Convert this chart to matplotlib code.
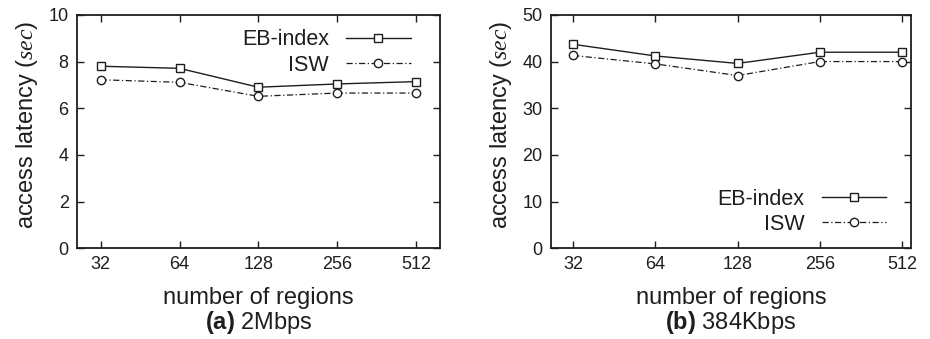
import matplotlib
matplotlib.use('Agg')
import matplotlib.pyplot as plt

plt.rcParams['font.family'] = ['Liberation Sans', 'DejaVu Sans']
plt.rcParams['mathtext.fontset'] = 'custom'
plt.rcParams['mathtext.rm'] = 'Liberation Sans'
plt.rcParams['mathtext.it'] = 'Liberation Serif:italic'
plt.rcParams['mathtext.bf'] = 'Liberation Sans:bold'

# Data
regions = ['32', '64', '128', '256', '512']
eb_2mbps = [7.80, 7.71, 6.90, 7.04, 7.14]
isw_2mbps = [7.22, 7.11, 6.51, 6.65, 6.65]
eb_384kbps = [43.7, 41.2, 39.6, 42.0, 42.0]
isw_384kbps = [41.3, 39.5, 37.0, 40.0, 40.0]

fig = plt.figure(figsize=(9.3, 3.39), dpi=100)
ax1 = fig.add_axes([0.0828, 0.268, 0.390, 0.688])
ax2 = fig.add_axes([0.5925, 0.268, 0.387, 0.688])

x = list(range(len(regions)))
ylabel = 'access latency ($\\mathit{sec}$)'
ink = '#1e1e1e'


def draw(ax, eb, isw, ymax, xlim, legend_loc, anchor, caption):
    ax.plot(x, eb, color=ink, linestyle='-', linewidth=1.0,
            marker='s', markersize=6, markerfacecolor='white',
            markeredgecolor=ink, markeredgewidth=1.0, label='EB-index')
    ax.plot(x, isw, color=ink, linestyle=(0, (5, 2, 1, 2)), linewidth=0.9,
            marker='o', markersize=6, markerfacecolor='white',
            markeredgecolor=ink, markeredgewidth=1.0, label='ISW')
    ax.set_xlim(*xlim)
    ax.set_ylim(0, ymax)
    ax.set_xticks(x)
    ax.set_xticklabels(regions)
    ax.set_yticks(range(0, ymax + 1, ymax // 5))
    ax.tick_params(direction='in', length=5, width=1.0, top=True, right=True,
                   labelsize=13, pad=6, colors=ink)
    for s in ax.spines.values():
        s.set_linewidth(1.3)
        s.set_color(ink)
    ax.set_ylabel(ylabel, fontsize=17, color=ink, labelpad=6, y=0.53)
    ax.set_xlabel('number of regions', fontsize=17, color=ink, labelpad=10)
    ax.legend(loc=legend_loc, bbox_to_anchor=anchor, frameon=False,
              markerfirst=False, fontsize=15.5, handlelength=3.0,
              handletextpad=0.8, labelspacing=0.2, borderaxespad=0,
              labelcolor=ink)
    pos = ax.get_position()
    fig.text((pos.x0 + pos.x1) / 2, 0.0295, caption, fontsize=17, color=ink,
             ha='center', va='baseline')


draw(ax1, eb_2mbps, isw_2mbps, 10, (-0.3, 4.3), 'upper right', (0.944, 0.975),
     '$\\mathbf{(a)}$ 2Mbps')
draw(ax2, eb_384kbps, isw_384kbps, 50, (-0.27, 4.11), 'lower right', (0.955, 0.02),
     '$\\mathbf{(b)}$ 384Kbps')

fig.savefig('out.png', dpi=100)
